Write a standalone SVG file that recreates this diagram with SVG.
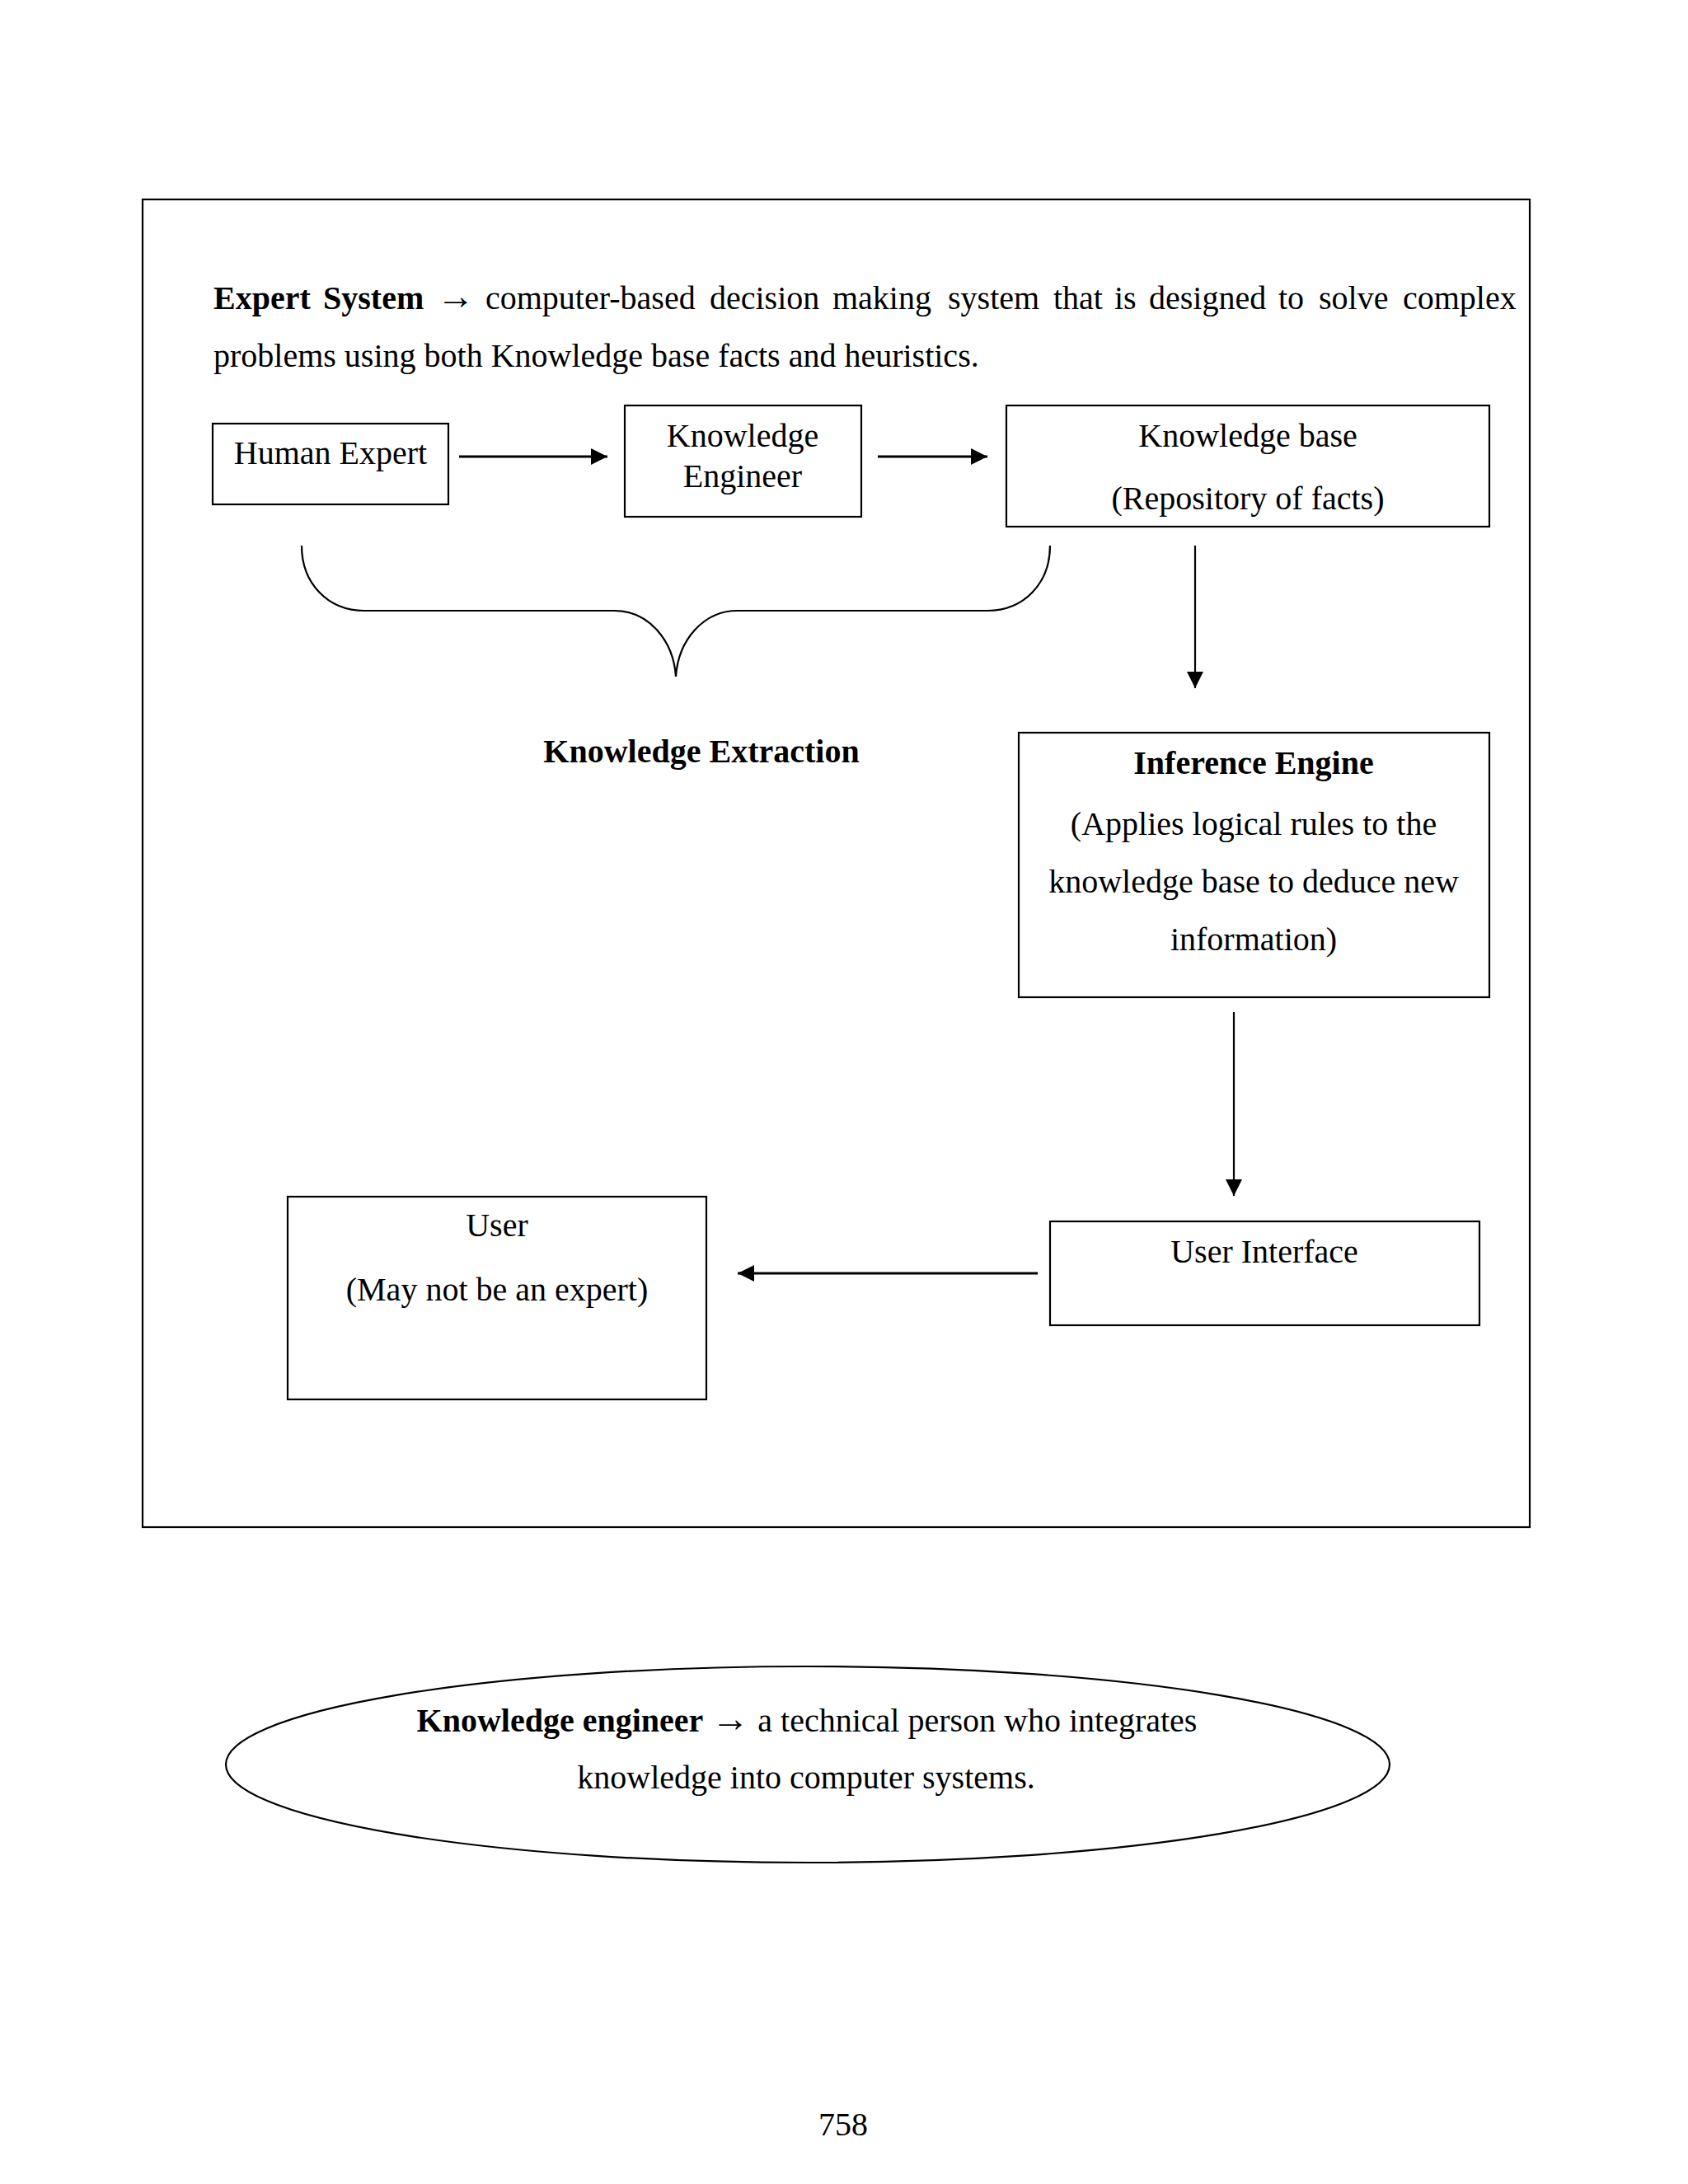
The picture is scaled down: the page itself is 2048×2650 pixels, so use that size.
<svg xmlns="http://www.w3.org/2000/svg" width="2048" height="2650" viewBox="0 0 2048 2650">
  <style>
    text { font-family: "Liberation Serif", "Times New Roman", serif; font-size: 40px; fill: #000; }
    .c { text-anchor: middle; }
    .b { font-weight: bold; }
    .arr { font-size: 46px; }
    .box { fill: none; stroke: #000; stroke-width: 2.2; }
    .conn { fill: none; stroke: #000; stroke-width: 3; }
    .thin { fill: none; stroke: #000; stroke-width: 2.2; }
  </style>
  <defs>
    <marker id="ah" viewBox="0 0 20 20" refX="20" refY="10" markerWidth="20" markerHeight="20" markerUnits="userSpaceOnUse" orient="auto">
      <path d="M0,0 L20,10 L0,20 z" fill="#000"/>
    </marker>
  </defs>
  <rect width="2048" height="2650" fill="#fff"/>

  <!-- outer frame -->
  <rect x="173" y="242" width="1683" height="1611" class="box"/>

  <!-- header text -->
  <g id="header">
    <text y="375"><tspan x="259" class="b">Expert</tspan><tspan x="392" class="b">System</tspan><tspan x="530" class="arr">→</tspan><tspan x="589">computer-based</tspan><tspan x="861">decision</tspan><tspan x="1010">making</tspan><tspan x="1150">system</tspan><tspan x="1278">that</tspan><tspan x="1352">is</tspan><tspan x="1394">designed</tspan><tspan x="1551">to</tspan><tspan x="1600">solve</tspan><tspan x="1702">complex</tspan></text>
    <text x="259" y="445">problems using both Knowledge base facts and heuristics.</text>
  </g>

  <g id="human-expert">
    <rect x="258" y="514" width="286" height="98" class="box"/>
    <text x="401" y="563" class="c">Human Expert</text>
  </g>

  <g id="knowledge-engineer">
    <rect x="758" y="492" width="287" height="135" class="box"/>
    <text x="901" y="542" class="c">Knowledge</text>
    <text x="901" y="591" class="c">Engineer</text>
  </g>

  <g id="knowledge-base">
    <rect x="1221" y="492" width="586" height="147" class="box"/>
    <text x="1514" y="542" class="c">Knowledge base</text>
    <text x="1514" y="618" class="c">(Repository of facts)</text>
  </g>

  <g id="knowledge-extraction">
    <path d="M366,662 C366,708 398,741 442,741 L745,741 C787,741 817,777 820,821 C823,777 853,741 895,741 L1198,741 C1242,741 1274,708 1274,662" class="thin"/>
    <text x="851" y="925" class="c b">Knowledge Extraction</text>
  </g>

  <g id="inference-engine">
    <rect x="1236" y="889" width="571" height="321" class="box"/>
    <text x="1521" y="939" class="c b">Inference Engine</text>
    <text x="1521" y="1013" class="c">(Applies logical rules to the</text>
    <text x="1521" y="1083" class="c">knowledge base to deduce new</text>
    <text x="1521" y="1153" class="c">information)</text>
  </g>

  <g id="user-interface">
    <rect x="1274" y="1482" width="521" height="126" class="box"/>
    <text x="1534" y="1532" class="c">User Interface</text>
  </g>

  <g id="user">
    <rect x="349" y="1452" width="508" height="246" class="box"/>
    <text x="603" y="1500" class="c">User</text>
    <text x="603" y="1578" class="c">(May not be an expert)</text>
  </g>

  <g id="connectors">
    <line x1="557" y1="554" x2="737" y2="554" class="conn" marker-end="url(#ah)"/>
    <line x1="1065" y1="554" x2="1198" y2="554" class="conn" marker-end="url(#ah)"/>
    <line x1="1450" y1="662" x2="1450" y2="835" class="thin" marker-end="url(#ah)"/>
    <line x1="1497" y1="1228" x2="1497" y2="1451" class="thin" marker-end="url(#ah)"/>
    <line x1="1259" y1="1545" x2="895" y2="1545" class="conn" marker-end="url(#ah)"/>
  </g>

  <g id="knowledge-engineer-note">
    <ellipse cx="980" cy="2141" rx="706" ry="119" class="box"/>
    <text x="979" y="2101" class="c"><tspan class="b">Knowledge engineer</tspan> <tspan class="arr">→</tspan> a technical person who integrates</text>
    <text x="978" y="2170" class="c">knowledge into computer systems.</text>
  </g>

  <text x="1023" y="2591" class="c">758</text>
</svg>
